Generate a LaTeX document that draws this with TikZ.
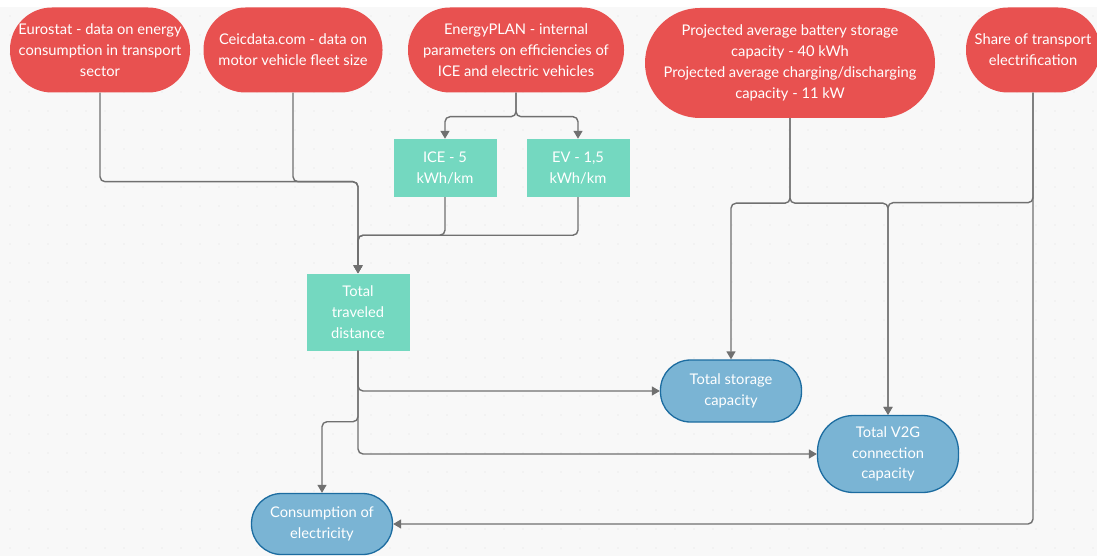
\documentclass[tikz,border=0pt]{standalone}
\usepackage{fontspec}
\setmainfont{Lato}
\usetikzlibrary{arrows.meta}
\definecolor{srcred}{RGB}{232,81,80}
\definecolor{calcteal}{RGB}{116,216,192}
\definecolor{resblue}{RGB}{122,180,212}
\definecolor{resline}{RGB}{28,108,160}
\definecolor{flowgray}{RGB}{112,112,112}
\definecolor{canvas}{RGB}{248,248,248}
\begin{document}
\begin{tikzpicture}[x=1pt,y=-1pt,
    font=\fontsize{14.7}{20.8}\selectfont,
    flow/.style={draw=flowgray,line width=1.4pt,rounded corners=5pt,
      -{Triangle[length=8pt,width=9pt]}}]

      \useasboundingbox (0,0) rectangle (1097,556);
      \fill[canvas] (0,7) rectangle (1097,556);
      \foreach \x in {10,29,...,1097}
        \foreach \y in {16,35,...,556}
          \fill[black!12] (\x,\y) circle (0.7pt);

      \begin{scope}[every node/.style={draw=none,fill=srcred,text=white,
          align=center,inner sep=0pt}]
        \node (1) at (100,50) [minimum width=180pt,minimum height=85pt,rounded corners=42pt]
          {Eurostat - data on energy\\consumption in transport\\sector};
        \node (2) at (293,50) [minimum width=179pt,minimum height=85pt,rounded corners=42pt]
          {Ceicdata.com - data on\\motor vehicle fleet size};
        \node (3) at (516,50) [minimum width=216pt,minimum height=85pt,rounded corners=42pt]
          {EnergyPLAN - internal\\parameters on efficiencies of\\ICE and electric vehicles};
        \node (4) at (790,63) [minimum width=290pt,minimum height=110pt,rounded corners=55pt]
          {Projected average battery storage\\capacity - 40 kWh\\Projected average charging/discharging\\capacity - 11 kW};
        \node (5) at (1033,50) [minimum width=134pt,minimum height=85pt,rounded corners=42pt]
          {Share of transport\\electrification};
      \end{scope}

      \begin{scope}[every node/.style={draw=none,fill=calcteal,text=white,
          align=center,inner sep=0pt}]
        \node (6) at (445,168) [minimum width=103pt,minimum height=58pt] {ICE - 5\\kWh/km};
        \node (7) at (578,168) [minimum width=103pt,minimum height=58pt] {EV - 1,5\\kWh/km};
        \node (8) at (358,312) [minimum width=103pt,minimum height=77pt] {Total\\traveled\\distance};
      \end{scope}

      \begin{scope}[every node/.style={draw=resline,line width=1.3pt,fill=resblue,
          text=white,align=center,inner sep=0pt}]
        \node (9)  at (731,391) [minimum width=141pt,minimum height=62pt,rounded corners=30pt]
          {Total storage\\capacity};
        \node (10) at (888,454) [minimum width=141pt,minimum height=77pt,rounded corners=36pt]
          {Total V2G\\connection\\capacity};
        \node (11) at (322,524) [minimum width=141pt,minimum height=61pt,rounded corners=30pt]
          {Consumption of\\electricity};
      \end{scope}

      \draw[flow] (1.south) -- ++(0,89) -| (8.north);
      \draw[flow] (2.south) -- ++(0,89) -| (8.north);
      \draw[flow] (3.south) -- ++(0,24) -| (6.north);
      \draw[flow] (3.south) -- ++(0,24) -| (7.north);
      \draw[flow] (6.south) -- ++(0,38) -| (8.north);
      \draw[flow] (7.south) -- ++(0,38) -| (8.north);
      \draw[flow] (4.south) -- ++(0,85) -| (9.north);
      \draw[flow] (4.south) -- ++(0,85) -| (10.north);
      \draw[flow] (5.south) -- ++(0,110) -| (10.north);
      \draw[flow] (5.south) |- (11.east);
      \draw[flow] (8.south) |- (9.west);
      \draw[flow] (8.south) |- (10.west);
      \draw[flow] (8.south) -- ++(0,71) -| (11.north);

    \end{tikzpicture}
\end{document}
